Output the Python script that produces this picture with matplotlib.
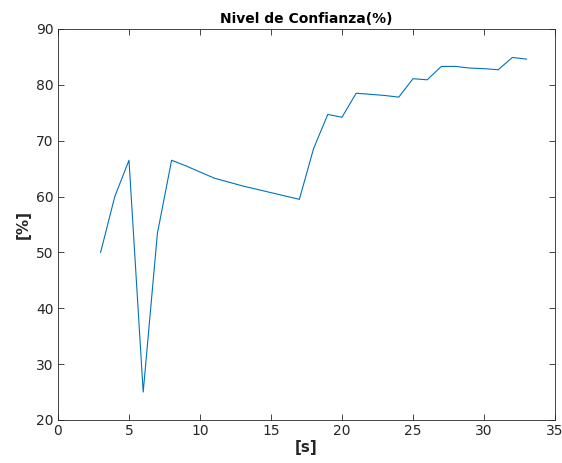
import matplotlib
matplotlib.use("Agg")
import matplotlib.pyplot as plt

# tiempo [s] y nivel de confianza [%]
tiempo = [3, 4, 5, 6, 7, 8, 9, 10, 11, 12, 13, 14, 15, 16, 17, 18,
          19, 20, 21, 22, 23, 24, 25, 26, 27, 28, 29, 30, 31, 32, 33]
confianza = [50.0, 60.0, 66.5, 25.0, 53.4, 66.5, 65.5, 64.4, 63.3, 62.6,
             61.9, 61.3, 60.7, 60.1, 59.5, 68.6, 74.7, 74.2, 78.5, 78.3,
             78.1, 77.8, 81.1, 80.9, 83.3, 83.3, 83.0, 82.9, 82.7, 84.9, 84.6]

x_ticks = [0, 5, 10, 15, 20, 25, 30, 35]
y_ticks = [20, 30, 40, 50, 60, 70, 80, 90]

gris = (0.15, 0.15, 0.15)

fig = plt.figure(figsize=(5.62, 4.63), dpi=100)
ax = fig.add_axes([0.1032, 0.0929, 0.8843, 0.8445])

ax.plot(tiempo, confianza, color="#0072BD", linewidth=0.8)

ax.set_xlim(0, 35)
ax.set_ylim(20, 90)
ax.set_xticks(x_ticks)
ax.set_yticks(y_ticks)
ax.tick_params(direction="in", top=True, right=True, length=4, width=0.6,
               labelsize=10, colors=gris, pad=3)
for s in ax.spines.values():
    s.set_color(gris)
    s.set_linewidth(0.6)

ax.set_title("Nivel de Confianza(%)", fontsize=10, fontweight="bold", pad=4)
ax.set_xlabel("[s]", fontsize=11, fontweight="bold", color=gris, labelpad=1)
ax.set_ylabel("[%]", fontsize=11, fontweight="bold", color=gris, labelpad=4)

fig.savefig("out.png", dpi=100)
